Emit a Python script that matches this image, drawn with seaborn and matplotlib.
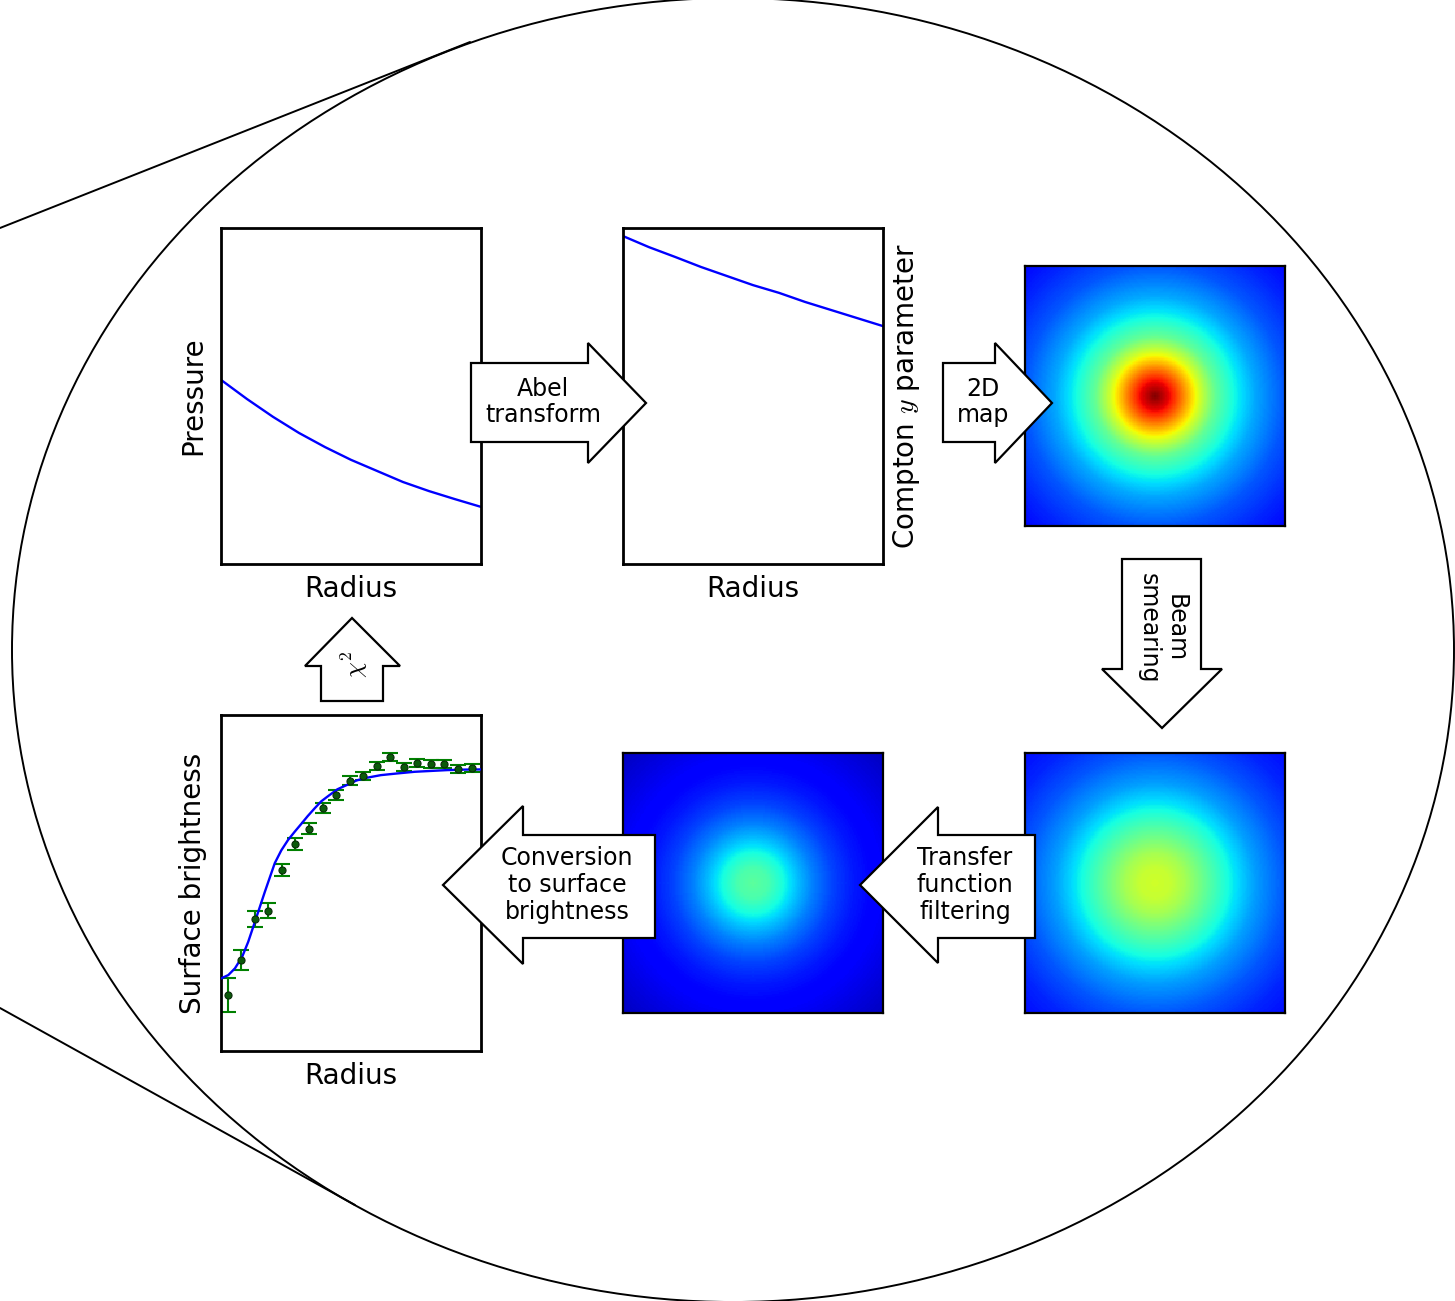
import numpy as np
import matplotlib
matplotlib.use("Agg")
import matplotlib.pyplot as plt
from matplotlib.patches import Polygon, Ellipse
from matplotlib.lines import Line2D
import seaborn as sns

sns.set_theme(style="white")
plt.rcParams["font.family"] = ["DejaVu Sans"]
plt.rcParams["mathtext.fontset"] = "cm"
plt.rcParams["text.color"] = "black"
plt.rcParams["axes.labelcolor"] = "black"

# ---------------- data ----------------
# pressure profile (normalised radius, normalised pressure)
pressure_r = [0.0, 0.1, 0.2, 0.3, 0.4, 0.5, 0.6, 0.7, 0.8, 0.9, 1.0]
pressure_v = [0.548, 0.491, 0.438, 0.390, 0.348, 0.310, 0.277, 0.244, 0.217, 0.193, 0.170]

# Compton y profile
compton_r = [0.0, 0.1, 0.2, 0.3, 0.4, 0.5, 0.6, 0.7, 0.8, 0.9, 1.0]
compton_v = [0.976, 0.943, 0.914, 0.884, 0.857, 0.830, 0.807, 0.780, 0.756, 0.732, 0.708]

# surface brightness measurements
sb_r = [0.5, 1.5, 2.5, 3.5, 4.5, 5.5, 6.5, 7.5, 8.5, 9.5,
        10.5, 11.5, 12.5, 13.5, 14.5, 15.5, 16.5, 17.5, 18.5]
sb_v = [0.167, 0.271, 0.392, 0.418, 0.539, 0.615, 0.662, 0.724, 0.762, 0.804,
        0.818, 0.848, 0.874, 0.844, 0.856, 0.853, 0.853, 0.838, 0.841]
sb_err = [0.051, 0.030, 0.024, 0.022, 0.018, 0.018, 0.016, 0.015, 0.015, 0.013,
          0.012, 0.012, 0.012, 0.012, 0.012, 0.012, 0.012, 0.012, 0.012]

# model surface brightness curve
model_r = [0.0, 0.54, 1.03, 1.57, 2.01, 2.55, 3.24, 3.6, 3.97, 4.45, 4.95, 5.45,
           5.93, 6.4, 6.91, 7.4, 7.89, 8.6, 9.36, 10.0, 10.6, 11.8, 13.0, 14.3,
           15.5, 16.7, 18.0, 19.2]
model_v = [0.216, 0.226, 0.246, 0.281, 0.325, 0.390, 0.474, 0.516, 0.559, 0.597,
           0.628, 0.653, 0.676, 0.699, 0.722, 0.743, 0.758, 0.779, 0.793, 0.805,
           0.812, 0.821, 0.826, 0.831, 0.8335, 0.836, 0.8375, 0.838]

# radial colour profiles of the three maps (radius in map pixels, jet level)
map_radius = [0, 15, 30, 45, 60, 80, 100, 130, 160, 190]
ymap_level = [1.00, 0.90, 0.75, 0.60, 0.47, 0.37, 0.29, 0.21, 0.16, 0.12]
beam_level = [0.60, 0.59, 0.55, 0.49, 0.43, 0.35, 0.28, 0.21, 0.16, 0.13]
filt_level = [0.46, 0.44, 0.38, 0.31, 0.25, 0.19, 0.15, 0.11, 0.08, 0.05]

# ---------------- layout ----------------
W, H = 1455, 1301
fig = plt.figure(figsize=(W / 100, H / 100), dpi=100)


def box(x0, y0, x1, y1):
    return [x0 / W, 1 - y1 / H, (x1 - x0) / W, (y1 - y0) / H]


LABEL_FS = 20
ARROW_FS = 17


def frame(ax, lw=2.0):
    for s in ax.spines.values():
        s.set_visible(True)
        s.set_color("black")
        s.set_linewidth(lw)
    ax.set_xticks([])
    ax.set_yticks([])


def radial_map(levels, n=200, side=260):
    c = (n - 1) / 2
    yy, xx = np.mgrid[0:n, 0:n]
    r = np.hypot(xx - c, yy - c) * side / n
    return np.interp(r, map_radius, levels)


# pressure panel
ax_p = fig.add_axes(box(221, 228, 481, 564))
sns.lineplot(x=pressure_r, y=pressure_v, ax=ax_p, color="blue", lw=1.7)
ax_p.set_xlim(0, 1)
ax_p.set_ylim(0, 1)
frame(ax_p)
ax_p.set_xlabel("Radius", fontsize=LABEL_FS, labelpad=8)
ax_p.set_ylabel("Pressure", fontsize=LABEL_FS, labelpad=10)

# Compton y panel
ax_c = fig.add_axes(box(623, 228, 883, 564))
sns.lineplot(x=compton_r, y=compton_v, ax=ax_c, color="blue", lw=1.7)
ax_c.set_xlim(0, 1)
ax_c.set_ylim(0, 1)
frame(ax_c)
ax_c.set_xlabel("Radius", fontsize=LABEL_FS, labelpad=8)
ax_c.yaxis.set_label_position("right")
ax_c.set_ylabel(r"Compton $y$ parameter", fontsize=LABEL_FS, labelpad=6)

# maps
for (x0, y0), levels in [((1025, 266), ymap_level),
                         ((1025, 753), beam_level),
                         ((623, 753), filt_level)]:
    ax_m = fig.add_axes(box(x0, y0, x0 + 260, y0 + 260))
    sns.heatmap(radial_map(levels), cmap="jet", vmin=0, vmax=1, cbar=False,
                xticklabels=False, yticklabels=False, ax=ax_m, rasterized=True)
    frame(ax_m, lw=1.6)

# surface brightness panel
ax_s = fig.add_axes(box(221, 715, 481, 1051))
sns.lineplot(x=model_r, y=model_v, ax=ax_s, color="blue", lw=1.7, zorder=3)
ax_s.errorbar(sb_r, sb_v, yerr=sb_err, fmt="none", ecolor="green",
              elinewidth=1.5, capsize=5.5, capthick=1.5, zorder=2)
sns.scatterplot(x=sb_r, y=sb_v, ax=ax_s, color="#0b5a0b", edgecolor="#0a2a0a",
                s=26, linewidth=0.8, zorder=4)
ax_s.set_xlim(0, 19.2)
ax_s.set_ylim(0, 1)
frame(ax_s)
ax_s.set_xlabel("Radius", fontsize=LABEL_FS, labelpad=8)
ax_s.set_ylabel("Surface brightness", fontsize=LABEL_FS, labelpad=10)

# ---------------- overlay: lens outline and flow arrows ----------------
deco = fig.add_axes([0, 0, 1, 1], zorder=10)
deco.set_xlim(0, W)
deco.set_ylim(H, 0)
deco.axis("off")
deco.patch.set_alpha(0)

deco.add_patch(Ellipse((733, 650), 1442, 1304, fill=False, ec="black", lw=1.4))
deco.add_line(Line2D([0, 470], [228, 42], color="black", lw=1.4))
deco.add_line(Line2D([0, 355], [1008, 1205], color="black", lw=1.4))

arrows = {
    "abel": [(471, 363), (588, 363), (588, 343), (646, 403), (588, 463), (588, 442), (471, 442)],
    "map": [(943, 363), (995, 363), (995, 343), (1052, 403), (995, 463), (995, 442), (943, 442)],
    "beam": [(1122, 559), (1201, 559), (1201, 669), (1222, 669), (1162, 728), (1102, 669), (1122, 669)],
    "conv": [(655, 835), (523, 835), (523, 806), (443, 885), (523, 964), (523, 938), (655, 938)],
    "filt": [(1035, 835), (938, 835), (938, 807), (860, 885), (938, 963), (938, 938), (1035, 938)],
    "chi": [(321, 701), (383, 701), (383, 666), (400, 666), (352, 618), (305, 666), (321, 666)],
}
for pts in arrows.values():
    deco.add_patch(Polygon(pts, closed=True, fc="white", ec="black", lw=1.6,
                           joinstyle="miter"))

txt = dict(ha="center", va="center", multialignment="center",
           fontsize=ARROW_FS, linespacing=1.15)
deco.text(543, 402, "Abel\ntransform", **txt)
deco.text(983, 402, "2D\nmap", **txt)
deco.text(1162, 628, "Beam\nsmearing", rotation=270, **txt)
deco.text(567, 885, "Conversion\nto surface\nbrightness", **txt)
deco.text(965, 885, "Transfer\nfunction\nfiltering", **txt)
deco.text(355, 664, r"$\chi^2$", rotation=90, ha="center", va="center", fontsize=18)

fig.savefig("out.png", dpi=100, facecolor="white")
